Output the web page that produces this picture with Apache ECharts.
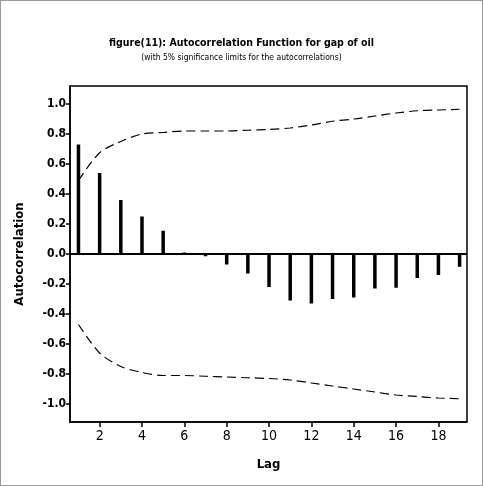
<!DOCTYPE html>
<html>
<head>
<meta charset="utf-8">
<script src="https://cdn.jsdelivr.net/npm/echarts@6/dist/echarts.min.js"></script>
<style>
* { margin: 0; padding: 0; }
body { background: #fff; }
#main { width: 483px; height: 486px; box-sizing: border-box; border: 1px solid #9a9a9a; }
</style>
</head>
<body>
<div id="main"></div>
<script>
// lag numbers and autocorrelation values
var lags = [1, 2, 3, 4, 5, 6, 7, 8, 9, 10, 11, 12, 13, 14, 15, 16, 17, 18, 19];
var acf = [0.73, 0.54, 0.36, 0.25, 0.155, 0.01, -0.015, -0.07, -0.13, -0.22,
           -0.31, -0.33, -0.30, -0.29, -0.23, -0.225, -0.16, -0.14, -0.085];
// 5% significance limits
var upperLimit = [0.49, 0.675, 0.75, 0.80, 0.81, 0.82, 0.82, 0.82, 0.825, 0.83,
                  0.84, 0.86, 0.885, 0.90, 0.92, 0.94, 0.955, 0.96, 0.965];
var lowerLimit = [-0.47, -0.66, -0.75, -0.79, -0.81, -0.81, -0.815, -0.82, -0.825, -0.83,
                  -0.84, -0.86, -0.88, -0.90, -0.92, -0.94, -0.95, -0.96, -0.965];
var xTicks = [2, 4, 6, 8, 10, 12, 14, 16, 18];
var yTicks = [-1.0, -0.8, -0.6, -0.4, -0.2, 0.0, 0.2, 0.4, 0.6, 0.8, 1.0];

function pairs(ys) {
  return lags.map(function (l, i) { return [l, ys[i]]; });
}

var chart = echarts.init(document.getElementById('main'));
chart.setOption({
  animation: false,
  title: [
    {
      text: 'figure(11): Autocorrelation Function for gap of oil',
      left: 'center',
      top: 32,
      textStyle: { fontFamily: 'DejaVu Sans Condensed', fontSize: 10.5, fontWeight: 'bold', color: '#000' }
    },
    {
      text: '(with 5% significance limits for the autocorrelations)',
      left: 'center',
      top: 47,
      textStyle: { fontFamily: 'DejaVu Sans Condensed', fontSize: 8.5, fontWeight: 'normal', color: '#000' }
    }
  ],
  grid: {
    left: 69, right: 15, top: 85, bottom: 63,
    show: true, borderColor: '#000', borderWidth: 1.5, backgroundColor: '#fff'
  },
  xAxis: {
    type: 'value',
    min: 0.6,
    max: 19.35,
    name: 'Lag',
    nameLocation: 'middle',
    nameGap: 36,
    nameTextStyle: { fontFamily: 'DejaVu Sans Condensed', fontSize: 13, fontWeight: 'bold', color: '#000' },
    splitLine: { show: false },
    axisLine: { onZero: false, lineStyle: { color: '#000', width: 1.5 } },
    axisTick: { customValues: xTicks, length: 5, lineStyle: { color: '#000', width: 1.5 } },
    axisLabel: {
      customValues: xTicks,
      fontFamily: 'DejaVu Sans Condensed', fontSize: 14, color: '#000', margin: 7
    }
  },
  yAxis: {
    type: 'value',
    min: -1.12,
    max: 1.12,
    name: 'Autocorrelation',
    nameLocation: 'middle',
    nameGap: 44,
    nameTextStyle: { fontFamily: 'DejaVu Sans Condensed', fontSize: 13, fontWeight: 'bold', color: '#000' },
    splitLine: { show: false },
    axisLine: { show: true, lineStyle: { color: '#000', width: 1.5 } },
    axisTick: { show: true, customValues: yTicks, length: 4, lineStyle: { color: '#000', width: 1.5 } },
    axisLabel: {
      customValues: yTicks,
      formatter: function (v) { return v.toFixed(1); },
      fontFamily: 'DejaVu Sans Condensed', fontSize: 12, fontWeight: 'bold', color: '#000', margin: 4
    }
  },
  series: [
    {
      name: 'ACF',
      type: 'bar',
      barWidth: 3.5,
      itemStyle: { color: '#000' },
      data: pairs(acf),
      markLine: {
        silent: true,
        symbol: 'none',
        label: { show: false },
        lineStyle: { color: '#000', width: 2, type: 'solid' },
        data: [{ yAxis: 0 }]
      }
    },
    {
      name: 'upper',
      type: 'line',
      smooth: 0.3,
      symbol: 'none',
      lineStyle: { color: '#000', width: 1.2, type: [9, 5] },
      data: pairs(upperLimit)
    },
    {
      name: 'lower',
      type: 'line',
      smooth: 0.3,
      symbol: 'none',
      lineStyle: { color: '#000', width: 1.2, type: [9, 5] },
      data: pairs(lowerLimit)
    }
  ]
});
</script>
</body>
</html>
